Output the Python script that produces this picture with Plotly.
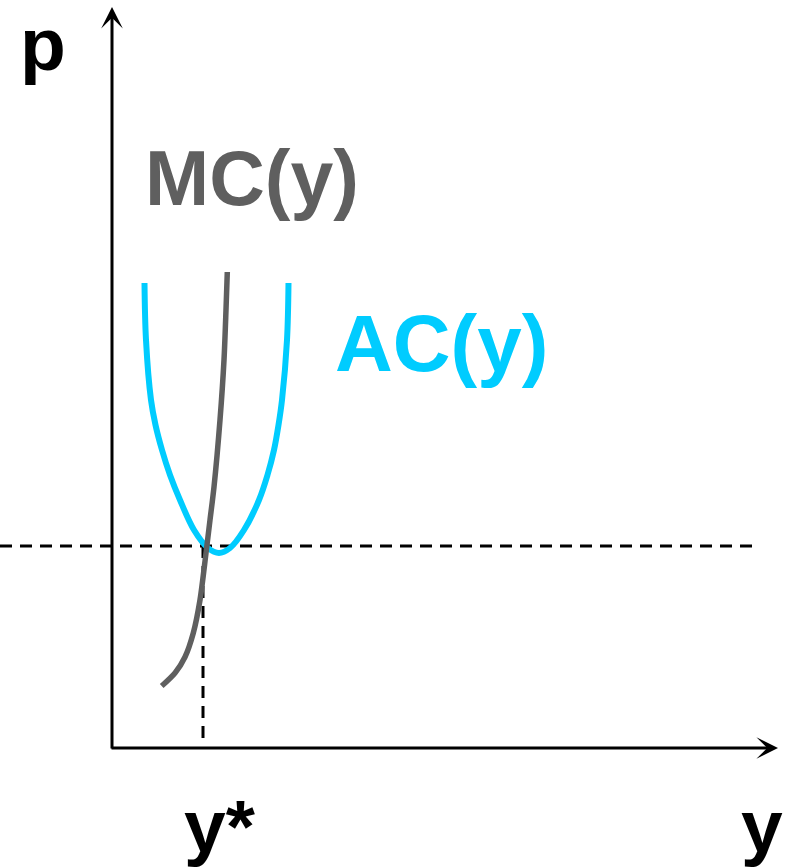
import plotly.graph_objects as go

# Data (units: quantity y on horizontal axis, price p on vertical axis)
ac_q = [3.25, 3.40, 3.90, 4.35, 5.00, 5.80, 6.80, 8.20, 9.60, 10.70,
        11.80, 13.20, 14.70, 15.55, 16.20, 16.65, 17.00, 17.50, 17.65]
ac_p = [46.5, 40.8, 34.8, 32.3, 29.8, 27.3, 24.8, 21.8, 20.0, 19.5,
        20.0, 21.8, 24.8, 27.3, 29.8, 32.3, 34.8, 40.8, 46.5]

mc_q = [4.97, 6.30, 7.30, 8.13, 8.80, 9.40, 9.80, 10.20, 10.80, 11.20, 11.40, 11.53]
mc_p = [6.2, 7.5, 9.1, 11.5, 14.8, 19.5, 22.8, 26.1, 32.8, 38.8, 43.8, 47.6]

y_star = 9.1       # optimal quantity
p_star = 20.2      # price level
x_max = 66.6       # end of horizontal axis
p_max = 74.1       # end of vertical axis

FONT = "Liberation Sans, Arial, sans-serif"
CYAN = "#00CCFF"
GRAY = "#5F5F5F"

fig = go.Figure()

# dashed price line
fig.add_trace(go.Scatter(x=[-11.2, 64.3], y=[p_star, p_star], mode="lines",
                         line=dict(color="black", width=3, dash="12px,8px"),
                         hoverinfo="skip", showlegend=False))
# dashed vertical at y*
fig.add_trace(go.Scatter(x=[y_star, y_star], y=[p_star, 0.3], mode="lines",
                         line=dict(color="black", width=3, dash="12px,8px"),
                         hoverinfo="skip", showlegend=False))
# AC curve
fig.add_trace(go.Scatter(x=ac_q, y=ac_p, mode="lines",
                         line=dict(color=CYAN, width=6, shape="spline", smoothing=1.0),
                         hoverinfo="skip", showlegend=False))
# MC curve
fig.add_trace(go.Scatter(x=mc_q, y=mc_p, mode="lines",
                         line=dict(color=GRAY, width=5.5, shape="spline", smoothing=0.8),
                         hoverinfo="skip", showlegend=False))

annotations = [
    # axes with arrows
    dict(x=0, y=p_max, ax=0, ay=-0.2, xref="x", yref="y", axref="x", ayref="y",
         showarrow=True, arrowhead=3, arrowsize=1.2, arrowwidth=3, arrowcolor="black", text=""),
    dict(x=x_max, y=0, ax=-0.2, ay=0, xref="x", yref="y", axref="x", ayref="y",
         showarrow=True, arrowhead=3, arrowsize=1.2, arrowwidth=3, arrowcolor="black", text=""),
    # labels
    dict(x=-6.9, y=70.4, xref="x", yref="y", text="<b>p</b>", showarrow=False,
         font=dict(family=FONT, size=75, color="black")),
    dict(x=65.0, y=-7.8, xref="x", yref="y", text="<b>y</b>", showarrow=False,
         font=dict(family=FONT, size=75, color="black")),
    dict(x=10.8, y=-7.8, xref="x", yref="y", text="<b>y*</b>", showarrow=False,
         font=dict(family=FONT, size=75, color="black")),
    dict(x=13.95, y=57.0, xref="x", yref="y", text="<b>MC(y)</b>", showarrow=False,
         font=dict(family=FONT, size=77, color=GRAY)),
    dict(x=32.95, y=40.5, xref="x", yref="y", text="<b>AC(y)</b>", showarrow=False,
         font=dict(family=FONT, size=80, color=CYAN)),
]

fig.update_layout(
    width=787, height=868,
    margin=dict(l=0, r=0, t=0, b=0),
    paper_bgcolor="white", plot_bgcolor="white",
    xaxis=dict(range=[-11.2, 67.5], visible=False, fixedrange=True),
    yaxis=dict(range=[-12.0, 74.8], visible=False, fixedrange=True),
    annotations=annotations,
    showlegend=False,
)

fig.write_html("out.html", config={"displayModeBar": False},
               post_script="document.body.style.margin='0';")
